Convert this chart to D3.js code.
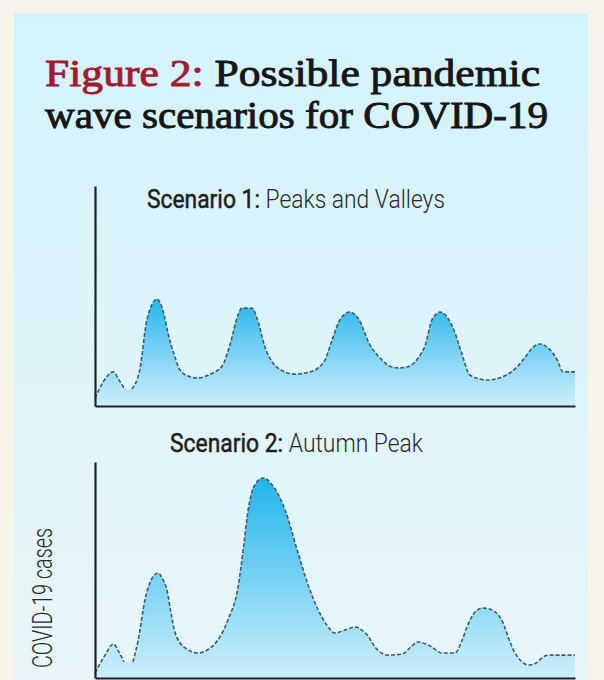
<!DOCTYPE html>
<html lang="en">
<head>
  <meta charset="UTF-8">
  <script src="https://d3js.org/d3.v7.min.js"></script>
  <title>Possible pandemic wave scenarios for COVID-19</title>
  <style>
    body { margin: 0; background: #f6f4eb; }
    svg { display: block; }
  </style>
</head>
<body>
  <svg width="604" height="680"></svg>
  <script>
    // time runs 0..100 across each panel, cases 0..100 up the y axis
    // null = the break in the dashed line just after the first small bump
    const weeks1 = [0, 1.7, 3.8, 5, 6.3, 7, 7.7, 9.4, 10.8, 12.9, 14.4, 15.2, 16.5, 17.7, 19.4, 21.3, 24, 26.5, 28.1, 29.8,
      30.6, 32.7, 34, 35.4, 36.9, 38.1, 41.7, 44.8, 46.5, 47.9, 49.4, 51, 53.1, 54.8, 57.3, 59.4, 61.9, 63.5, 65.6, 67.3,
      68.8, 70.2, 71.9, 73.5, 75, 76.5, 78.1, 81.7, 84.8, 87.9, 89.8, 91.3, 92.7, 94.4, 96.3, 97.5, 100];
    const cases1 = [3.6, 10.9, 15.5, 11.8, 7.3, null, 7.7, 17.3, 39.1, 48.6, 41.4, 33.2, 23.2, 16.4, 13.6, 12.7, 14.5, 18.2, 27.7, 41.4,
      44.5, 44.5, 38.2, 26.8, 20, 17.3, 14.5, 15.5, 17.3, 20.9, 30, 39.1, 42.7, 40, 27.7, 21.8, 17.7, 17.3, 18.2, 21.8,
      27.7, 39.1, 42.7, 40, 33.2, 23.2, 14.1, 11.8, 13.2, 17.7, 22.7, 26.8, 28.2, 26.4, 20.9, 15.5, 15.5];

    const weeks2 = [0, 2.1, 3.8, 5, 6, 7, 7.9, 9, 10.4, 11.7, 13.1, 14.2, 15, 15.8, 16.7, 18.8, 21.5, 24, 25.6, 27.7,
      29.8, 31, 31.9, 33.3, 35, 36.9, 39.6, 42.3, 44.4, 46.5, 48.3, 50, 52.1, 54.2, 55.6, 56.7, 58.5, 61, 64, 65.6,
      67.3, 69.8, 72.3, 75, 76.5, 77.5, 79.2, 80.8, 82.7, 85, 86.3, 87.5, 89, 90.2, 91.9, 93.3, 94.8, 100];
    const cases2 = [2.3, 10.6, 15.7, 12, 7.4, null, 7.4, 17.6, 36.1, 45.4, 48.6, 45.4, 40.7, 30.6, 20.8, 13.9, 11.6, 13.9, 17.6, 26.9,
      42.1, 61.6, 77.8, 89.4, 92.6, 89.4, 77.8, 57.9, 43.1, 31.5, 24.5, 20.8, 22.2, 23.6, 22.2, 19.9, 13.9, 10.6, 11.1, 13.9,
      16.7, 14.8, 11.6, 11.6, 17.6, 23.6, 30.6, 32.4, 31.5, 25.5, 17.6, 11.6, 7.4, 6, 6.9, 9.7, 10.6, 10.6];

    const titleLines = [["Figure 2:", "Possible pandemic"], ["", "wave scenarios for COVID-19"]];
    const panelTitles = [["Scenario 1:", "Peaks and Valleys"], ["Scenario 2:", "Autumn Peak"]];
    const yLabel = "COVID-19 cases";

    const svg = d3.select("svg");
    const defs = svg.append("defs");

    // light blue panel
    const bg = defs.append("linearGradient").attr("id", "bg").attr("x1", 0).attr("y1", 0).attr("x2", 0).attr("y2", 1);
    bg.append("stop").attr("offset", 0).attr("stop-color", "#d3f3fc");
    bg.append("stop").attr("offset", 1).attr("stop-color", "#e8f6fa");
    svg.append("rect").attr("x", 14).attr("y", 13).attr("width", 574).attr("height", 667).attr("fill", "url(#bg)");

    // headline
    const head = svg.append("g").attr("font-family", "'Liberation Serif', 'Times New Roman', serif").attr("font-size", 38);
    const headWidths = [495, 503];
    titleLines.forEach((ln, i) => {
      const t = head.append("text")
        .attr("x", 45).attr("y", 86 + i * 42)
        .attr("textLength", headWidths[i]).attr("lengthAdjust", "spacingAndGlyphs")
        .attr("stroke-width", 0.9);
      if (ln[0]) t.append("tspan").attr("fill", "#a3192d").attr("stroke", "#a3192d").text(ln[0] + " ");
      t.append("tspan").attr("fill", "#161616").attr("stroke", "#161616").text(ln[1]);
    });

    const panels = [
      { weeks: weeks1, cases: cases1, top: 186, base: 406, title: panelTitles[0], tx: 147, ty: 208, tw: 298, g0: 296 },
      { weeks: weeks2, cases: cases2, top: 462, base: 678, title: panelTitles[1], tx: 170, ty: 452, tw: 253, g0: 478 }
    ];

    const x = d3.scaleLinear().domain([0, 100]).range([95, 575]);

    panels.forEach((p, i) => {
      const y = d3.scaleLinear().domain([0, 100]).range([p.base, p.top]);
      const data = p.weeks.map((w, k) => ({ w: w, v: p.cases[k] }));
      const filled = data.filter(d => d.v !== null);

      const grad = defs.append("linearGradient").attr("id", "fill" + i)
        .attr("gradientUnits", "userSpaceOnUse")
        .attr("x1", 0).attr("x2", 0).attr("y1", p.g0).attr("y2", p.base);
      grad.append("stop").attr("offset", 0).attr("stop-color", "#22b4eb");
      grad.append("stop").attr("offset", 1).attr("stop-color", "#cdeffb");

      const area = d3.area().x(d => x(d.w)).y0(p.base).y1(d => y(d.v)).curve(d3.curveMonotoneX);
      const line = d3.line().defined(d => d.v !== null).x(d => x(d.w)).y(d => y(d.v)).curve(d3.curveMonotoneX);

      svg.append("path").attr("d", area(filled)).attr("fill", `url(#fill${i})`);
      svg.append("path").attr("d", line(data))
        .attr("fill", "none")
        .attr("stroke", "#3e5b6a")
        .attr("stroke-width", 1.6)
        .attr("stroke-dasharray", "4 2");

      // bare axes, no ticks
      const xAxis = d3.axisBottom(x).tickValues([]).tickSizeOuter(0);
      const yAxis = d3.axisLeft(y).tickValues([]).tickSizeOuter(0);
      svg.append("g").attr("transform", `translate(0,${p.base})`).call(xAxis)
        .select(".domain").attr("stroke", "#222").attr("stroke-width", 2.2);
      svg.append("g").attr("transform", "translate(95,0)").call(yAxis)
        .select(".domain").attr("stroke", "#222").attr("stroke-width", 2.2);

      const t = svg.append("text")
        .attr("x", p.tx).attr("y", p.ty)
        .attr("font-family", "Roboto, sans-serif").attr("font-size", 25)
        .attr("textLength", p.tw).attr("lengthAdjust", "spacingAndGlyphs");
      t.append("tspan").attr("font-weight", 400).attr("fill", "#1e1e1e")
        .attr("stroke", "#1e1e1e").attr("stroke-width", 0.5).text(p.title[0] + " ");
      t.append("tspan").attr("font-weight", 300).attr("fill", "#2a2a2a").text(p.title[1]);
    });

    svg.append("text")
      .attr("transform", "translate(52,598) rotate(-90)")
      .attr("text-anchor", "middle")
      .attr("font-family", "Roboto, sans-serif").attr("font-weight", 300)
      .attr("font-size", 28).attr("fill", "#2a2a2a")
      .attr("textLength", 140).attr("lengthAdjust", "spacingAndGlyphs")
      .text(yLabel);
  </script>
</body>
</html>
